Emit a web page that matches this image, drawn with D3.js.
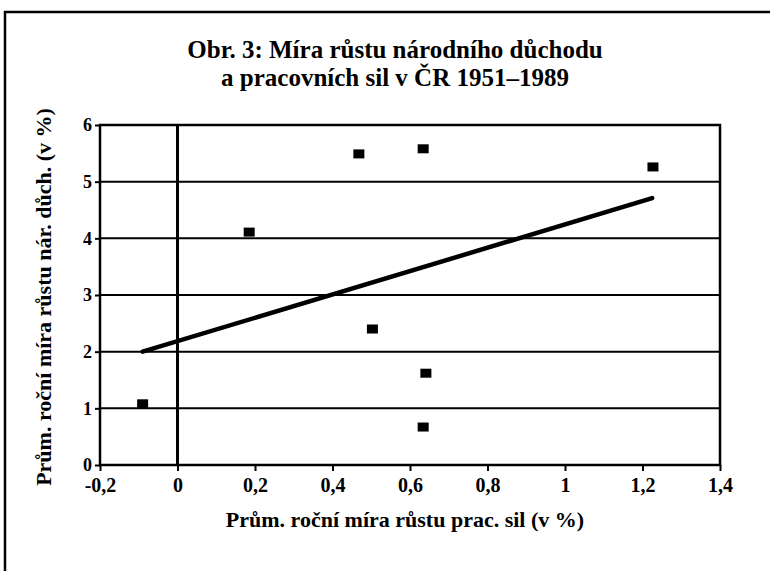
<!DOCTYPE html>
<html><head><meta charset="utf-8">
<script src="https://cdn.jsdelivr.net/npm/d3@7"></script>
<style>body{margin:0;background:#fff}svg{display:block}</style>
</head><body>
<script>
const titleLines = ["Obr. 3: Míra růstu národního důchodu", "a pracovních sil v ČR 1951–1989"];
const xLabel = "Prům. roční míra růstu prac. sil (v %)";
const yLabel = "Prům. roční míra růstu nár. důch. (v %)";
const xTicks = [-0.2, 0, 0.2, 0.4, 0.6, 0.8, 1, 1.2, 1.4];
const yTicks = [0, 1, 2, 3, 4, 5, 6];
const laborGrowth = [-0.09, 0.185, 0.468, 0.634, 1.227, 0.503, 0.641, 0.634];
const incomeGrowth = [1.08, 4.11, 5.49, 5.58, 5.26, 2.40, 1.62, 0.67];
const trendX = [-0.09, 1.225];
const trendY = [2.0, 4.71];

const W = 770, H = 571;
const svg = d3.select("body").append("svg").attr("width", W).attr("height", H);
const font = "'Liberation Serif', 'Times New Roman', serif";

// outer frame
svg.append("path").attr("d", "M5,571 L5,12 L770,12").attr("fill", "none").attr("stroke", "#000").attr("stroke-width", 2.5);

const x = d3.scaleLinear().domain([-0.2, 1.4]).range([100, 720]);
const y = d3.scaleLinear().domain([0, 6]).range([465, 125]);

// horizontal grid
svg.append("g").selectAll("line").data(yTicks.filter(d => d > 0 && d < 6)).join("line")
  .attr("x1", x(-0.2)).attr("x2", x(1.4)).attr("y1", d => y(d)).attr("y2", d => y(d))
  .attr("stroke", "#000").attr("stroke-width", 2);

// zero vertical line
svg.append("line").attr("x1", x(0)).attr("x2", x(0)).attr("y1", y(6)).attr("y2", y(0))
  .attr("stroke", "#000").attr("stroke-width", 3);

// plot box
svg.append("rect").attr("x", x(-0.2)).attr("y", y(6)).attr("width", x(1.4) - x(-0.2)).attr("height", y(0) - y(6))
  .attr("fill", "none").attr("stroke", "#000").attr("stroke-width", 2.5);

// axes
const xAxis = svg.append("g").attr("transform", `translate(0,${y(0)})`)
  .call(d3.axisBottom(x).tickValues(xTicks).tickSize(6).tickPadding(7)
    .tickFormat(d => String(d).replace(".", ",")));
const yAxis = svg.append("g").attr("transform", `translate(${x(-0.2)},0)`)
  .call(d3.axisLeft(y).tickValues(yTicks).tickSize(5).tickPadding(3).tickFormat(d3.format("d")));
[xAxis, yAxis].forEach(g => {
  g.select(".domain").remove();
  g.selectAll(".tick line").attr("stroke", "#000").attr("stroke-width", 2);
  g.selectAll("text").attr("font-family", font).attr("font-weight", "bold").attr("fill", "#000");
});
xAxis.selectAll("text").attr("font-size", 20);
yAxis.selectAll("text").attr("font-size", 18);

// trend line
svg.append("path").datum(trendX.map((d, i) => [d, trendY[i]]))
  .attr("d", d3.line().x(d => x(d[0])).y(d => y(d[1])))
  .attr("stroke", "#000").attr("stroke-width", 4.5).attr("stroke-linecap", "round").attr("fill", "none");

// points
svg.append("g").selectAll("rect").data(laborGrowth.map((d, i) => [d, incomeGrowth[i]])).join("rect")
  .attr("x", d => x(d[0]) - 5.5).attr("y", d => y(d[1]) - 4.5).attr("width", 11).attr("height", 9)
  .attr("fill", "#000");

// title
svg.append("text").attr("font-family", font).attr("font-weight", "bold").attr("font-size", 25)
  .attr("text-anchor", "middle")
  .selectAll("tspan").data(titleLines).join("tspan")
  .attr("x", 395).attr("y", (d, i) => 58 + i * 28).text(d => d);

// axis labels
svg.append("text").attr("x", 405).attr("y", 527).attr("text-anchor", "middle")
  .attr("font-family", font).attr("font-weight", "bold").attr("font-size", 22).text(xLabel);
svg.append("text").attr("transform", "translate(51,297) rotate(-90)").attr("text-anchor", "middle")
  .attr("font-family", font).attr("font-weight", "bold").attr("font-size", 22).text(yLabel);
</script>
</body></html>
